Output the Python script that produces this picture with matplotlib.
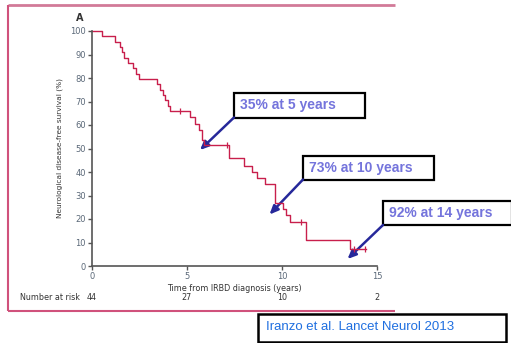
import matplotlib
matplotlib.use("Agg")
import matplotlib.pyplot as plt
from matplotlib.patches import Rectangle

# ---- data ----
times = [0, 0.51, 1.19, 1.49, 1.56, 1.67, 1.88, 2.16, 2.33, 2.46, 3.44, 3.58, 3.75, 3.86, 3.98, 4.10,
         5.16, 5.40, 5.65, 5.77, 5.88, 7.21, 8.00, 8.40, 8.70, 9.10, 9.65, 10.04, 10.20, 10.40, 11.25, 13.58]
surv = [100, 97.7, 95.5, 93.2, 90.9, 88.6, 86.4, 84.1, 81.8, 79.5, 77.3, 75.0, 72.7, 70.5, 68.2, 65.9,
        63.4, 60.6, 58.0, 53.7, 51.3, 45.8, 42.7, 40.0, 37.3, 34.9, 26.8, 24.2, 21.6, 18.7, 11.1, 7.2]
end_time = 14.4
censor_t = [4.65, 7.12, 10.98, 13.8, 14.37]
censor_s = [65.9, 51.3, 18.7, 7.2, 7.2]
x_ticks = [0, 5, 10, 15]
y_ticks = list(range(0, 101, 10))
at_risk = [44, 27, 10, 2]
annot_texts = ["35% at 5 years", "73% at 10 years", "92% at 14 years"]
citation = "Iranzo et al. Lancet Neurol 2013"

W, H = 511, 343
fig = plt.figure(figsize=(W / 100, H / 100), dpi=100)

# overlay for decorations in pixel coords
ov = fig.add_axes([0, 0, 1, 1])
ov.set_xlim(0, W)
ov.set_ylim(H, 0)
ov.axis("off")

frame_c = "#d0527c"
ov.plot([8, 395], [5, 5], color="#d27a98", lw=2, solid_capstyle="butt")
ov.plot([8, 8], [5, 311], color=frame_c, lw=1.5, solid_capstyle="butt")
ov.plot([8, 395], [311, 311], color=frame_c, lw=1.5, solid_capstyle="butt")

# main axes
ax = fig.add_axes([92 / W, (H - 266) / H, 285 / W, 235 / H])
ax.set_xlim(0, 15)
ax.set_ylim(0, 100)
ax.patch.set_alpha(0)
for s in ["top", "right"]:
    ax.spines[s].set_visible(False)
for s in ["left", "bottom"]:
    ax.spines[s].set_color("#555555")
    ax.spines[s].set_linewidth(1.2)
ax.set_xticks(x_ticks)
ax.set_yticks(y_ticks)
ax.tick_params(axis="both", length=3, width=1, color="#555555", labelsize=6,
               labelcolor="#5a6878", pad=1.5)

curve_c = "#c81f4c"
ax.step(times + [end_time], surv + [surv[-1]], where="post", color=curve_c, lw=1.0, clip_on=False)
ax.plot(censor_t, censor_s, linestyle="none", marker="|", ms=5, mew=0.9, color=curve_c, clip_on=False)

ax.set_xlabel("Time from IRBD diagnosis (years)", fontsize=5.8, color="#333333", labelpad=2)
ax.set_ylabel("Neurological disease-free survival (%)", fontsize=5.3, color="#333333", labelpad=5)

ov.text(80, 18, "A", fontsize=7, fontweight="bold", color="#333333", ha="center", va="center")

# number at risk
ov.text(20, 298, "Number at risk", fontsize=5.8, color="#333333", ha="left", va="center")
for t, n in zip(x_ticks, at_risk):
    xp = 92 + t * 19
    ov.text(xp, 298, str(n), fontsize=5.8, color="#333333", ha="center", va="center")

# annotation boxes
boxes = [(234, 93, 365, 117.5), (303, 156, 434, 179.5), (383, 201, 512, 225)]
tips = [(200, 150), (269.5, 214.5), (347.5, 259)]
txt_c = "#7474dc"
arr_c = "#26289a"
for (x0, y0, x1, y1), txt, tip in zip(boxes, annot_texts, tips):
    ov.add_patch(Rectangle((x0, y0), x1 - x0, y1 - y0, fill=True, facecolor="white",
                           edgecolor="black", lw=1.6, clip_on=False, zorder=3))
    ov.text(x0 + 6, (y0 + y1) / 2, txt, fontsize=10, fontweight="bold", color=txt_c,
            family="Liberation Sans", ha="left", va="center", zorder=4)
    ov.annotate("", xy=tip, xytext=(x0, y1),
                arrowprops=dict(arrowstyle="-|>,head_length=0.5,head_width=0.22",
                                color=arr_c, lw=1.8, shrinkA=0, shrinkB=0), zorder=5)

ov.add_patch(Rectangle((258, 314), 248, 28, fill=False, edgecolor="black", lw=1.8, clip_on=False))
ov.text(266, 327.5, citation, fontsize=9.5, color="#1f6fe0", family="Liberation Sans",
        ha="left", va="center")

fig.savefig("out.png", dpi=100)
